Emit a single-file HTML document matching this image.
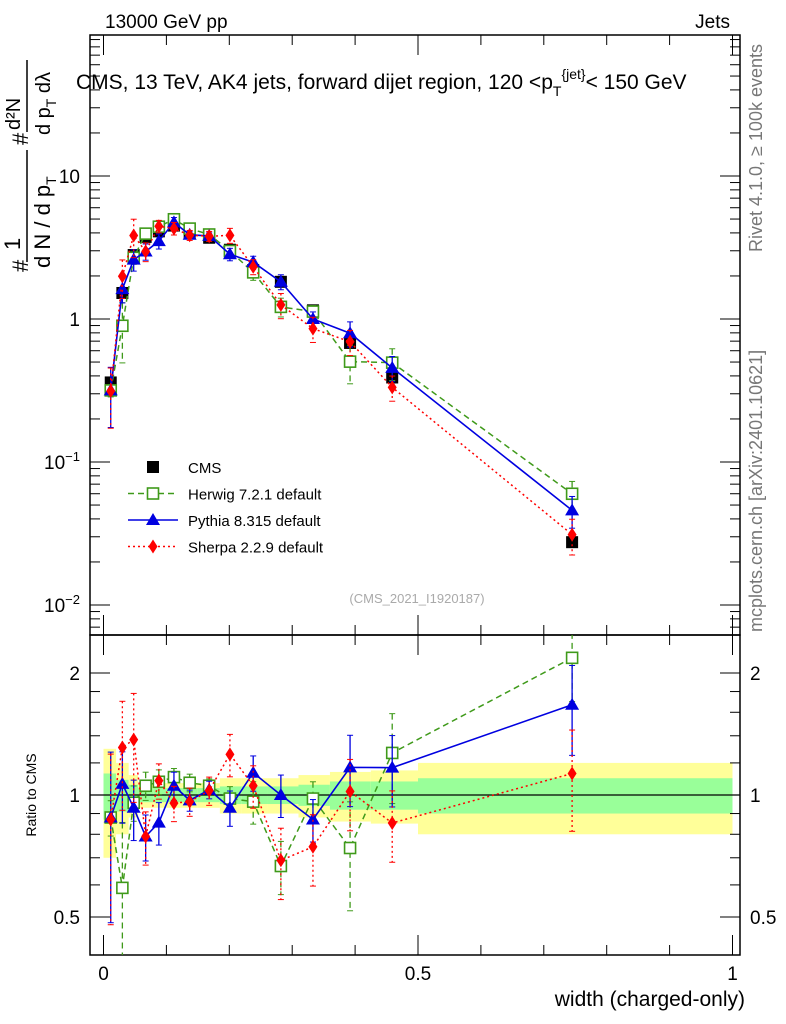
<!DOCTYPE html>
<html><head><meta charset="utf-8"><style>
body{margin:0;background:#fff}
svg{display:block;font-family:"Liberation Sans",sans-serif}
</style></head><body>
<svg id="c" width="786" height="1024" viewBox="0 0 786 1024" xmlns="http://www.w3.org/2000/svg">
<text x="105" y="28" font-size="19">13000 GeV pp</text>
<text x="730" y="28" font-size="19" text-anchor="end">Jets</text>
<text x="76" y="89" font-size="21">CMS, 13 TeV, AK4 jets, forward dijet region, 120 &lt;p<tspan font-size="14" dy="7">T</tspan><tspan font-size="14" dy="-17">{jet}</tspan><tspan dy="10">&lt; 150 GeV</tspan></text>
<text transform="translate(762,252) rotate(-90)" font-size="18" fill="#777">Rivet 4.1.0, ≥ 100k events</text>
<text transform="translate(762,632) rotate(-90)" font-size="18" fill="#777">mcplots.cern.ch [arXiv:2401.10621]</text>
<g>
<text transform="translate(28,272) rotate(-90)" font-size="22"># </text>
<text transform="translate(20,250) rotate(-90)" font-size="22">1</text>
<line x1="27" y1="150" x2="27" y2="262" stroke="#000" stroke-width="1.5"/>
<text transform="translate(50,268) rotate(-90)" font-size="22">d N / d p<tspan font-size="14" dy="6">T</tspan></text>
<text transform="translate(28,145) rotate(-90)" font-size="22">#</text>
<text transform="translate(20,130) rotate(-90)" font-size="20">d²N</text>
<line x1="27" y1="60" x2="27" y2="132" stroke="#000" stroke-width="1.5"/>
<text transform="translate(50,135) rotate(-90)" font-size="20">d p<tspan font-size="14" dy="6">T</tspan><tspan dy="-6"> dλ</tspan></text>
</g>
<text transform="translate(36,795) rotate(-90)" font-size="14" text-anchor="middle">Ratio to CMS</text>
<text x="745" y="1006" font-size="21" text-anchor="end">width (charged-only)</text>
<text x="417" y="603" font-size="13" fill="#aaa" text-anchor="middle">(CMS_2021_I1920187)</text>
<g id="g"></g>
</svg>
<script>
const xs=[0.0115,0.030,0.048,0.067,0.088,0.112,0.137,0.168,0.201,0.238,0.282,0.333,0.392,0.459,0.745];
const cms=[0.36,1.52,2.8,3.75,4.1,4.5,4.0,3.7,3.05,2.2,1.82,1.15,0.68,0.39,0.0275];
const herwigRatio=[0.88,0.59,0.957,1.054,1.078,1.107,1.072,1.054,0.98,0.963,0.668,0.98,0.74,1.27,2.18];
const pythiaRatio=[0.88,1.065,0.93,0.79,0.855,1.054,0.97,1.03,0.93,1.135,1.0,0.87,1.17,1.168,1.67];
const sherpaRatio=[0.87,1.31,1.37,0.79,1.085,0.955,0.963,1.025,1.26,1.054,0.69,0.745,1.02,0.853,1.13];
const herwigErr=[0.1,0.45,0.1,0.08,0.07,0.05,0.05,0.04,0.07,0.12,0.15,0.1,0.3,0.25,0.22];
const pythiaErr=[0.45,0.2,0.17,0.13,0.12,0.08,0.06,0.05,0.1,0.1,0.12,0.12,0.2,0.2,0.25];
const sherpaErr=[0.45,0.3,0.3,0.15,0.1,0.1,0.08,0.08,0.12,0.12,0.2,0.2,0.2,0.2,0.28];
const binEdges=[0,0.02,0.04,0.055,0.08,0.1,0.125,0.15,0.185,0.22,0.26,0.31,0.36,0.425,0.5,1.0];
const statBand=[0.13,0.09,0.06,0.04,0.04,0.04,0.04,0.04,0.05,0.05,0.05,0.06,0.08,0.08,0.1];
const totBand=[0.3,0.2,0.12,0.07,0.07,0.07,0.07,0.07,0.1,0.1,0.1,0.12,0.14,0.15,0.2];
const mainTicks=[10,1,0.1,0.01];
const ratioTicks=[2,1,0.5];
const xTicks=[0,0.5,1];

const NS="http://www.w3.org/2000/svg",G=document.getElementById('g');
function el(t,a,p){const e=document.createElementNS(NS,t);for(const k in a)e.setAttribute(k,a[k]);(p||G).appendChild(e);return e;}
const L=90,R=740,T=35,M=635,B=955;
const X=v=>103.5+v*629;
const Y=v=>319-143*Math.log10(v);
const RY=v=>795-122*Math.log2(v);
const clipR=el('clipPath',{id:'cr'});el('rect',{x:L,y:M,width:R-L,height:B-M},clipR);
const clipM=el('clipPath',{id:'cm'});el('rect',{x:L,y:T,width:R-L,height:M-T},clipM);

for(let i=0;i<statBand.length;i++){
 const x1=X(binEdges[i]),x2=X(binEdges[i+1]);
 let r=el('rect',{x:x1,y:RY(1+totBand[i]),width:x2-x1,height:RY(1-totBand[i])-RY(1+totBand[i]),fill:'#ffff99'});
 
 r=el('rect',{x:x1,y:RY(1+statBand[i]),width:x2-x1,height:RY(1-statBand[i])-RY(1+statBand[i]),fill:'#99ff99'});
 
}
el('line',{x1:L,x2:R,y1:RY(1),y2:RY(1),stroke:'#000','stroke-width':1.2});

let f=el('rect',{x:L,y:T,width:R-L,height:M-T,fill:'none',stroke:'#000','stroke-width':1.5});

f=el('rect',{x:L,y:M,width:R-L,height:B-M,fill:'none',stroke:'#000','stroke-width':1.5});


for(let d=-3;d<=2;d++)for(let m=1;m<10;m++){const v=m*Math.pow(10,d),y=Y(v);if(y<T||y>M)continue;const len=m==1?20:10;
 el('line',{x1:L,x2:L+len,y1:y,y2:y,stroke:'#000'});el('line',{x1:R,x2:R-len,y1:y,y2:y,stroke:'#000'});}
mainTicks.forEach(v=>{const t=el('text',{x:80,y:Y(v)+7,'font-size':19,'text-anchor':'end'});
 
 if(v>=1)t.textContent=String(v);else{t.textContent='10';const s=el('tspan',{'font-size':13,dy:-8},t);s.textContent='−'+Math.round(-Math.log10(v));}});
[0.5,0.6,0.7,0.8,0.9,1,1.2,1.4,1.6,1.8,2].forEach(v=>{const y=RY(v),len=(v==0.5||v==1||v==2)?20:10;
 el('line',{x1:L,x2:L+len,y1:y,y2:y,stroke:'#000'});el('line',{x1:R,x2:R-len,y1:y,y2:y,stroke:'#000'});});
ratioTicks.forEach(v=>{let t=el('text',{x:80,y:RY(v)+7,'font-size':19,'text-anchor':'end'});t.textContent=String(v);
 
 t=el('text',{x:750,y:RY(v)+7,'font-size':19});t.textContent=String(v);
 });
for(let i=0;i<=10;i++){const v=i/10,x=X(v),len=i%5==0?20:10;
 el('line',{x1:x,x2:x,y1:B,y2:B-len,stroke:'#000'});el('line',{x1:x,x2:x,y1:M,y2:M+len,stroke:'#000'});
 el('line',{x1:x,x2:x,y1:M,y2:M-len,stroke:'#000'});el('line',{x1:x,x2:x,y1:T,y2:T+len,stroke:'#000'});}
xTicks.forEach(v=>{const t=el('text',{x:X(v),y:980,'font-size':19,'text-anchor':'middle'});t.textContent=String(v);
 });

function marker(kind,x,y,col,p){
 if(kind=='sq')return el('rect',{x:x-5.5,y:y-5.5,width:11,height:11,fill:'#fff',stroke:col,'stroke-width':1.6},p);
 if(kind=='tri')return el('polygon',{points:`${x},${y-7} ${x-7},${y+5} ${x+7},${y+5}`,fill:col},p);
 if(kind=='dia')return el('polygon',{points:`${x},${y-7} ${x-4.5},${y} ${x},${y+7} ${x+4.5},${y}`,fill:col},p);
 return el('rect',{x:x-6,y:y-6,width:12,height:12,fill:'#000'},p);
}
const series=[
 {n:'herwig',r:herwigRatio,e:herwigErr,col:'#3f9a1a',dash:'6,4',w:1.5,m:'sq'},
 {n:'pythia',r:pythiaRatio,e:pythiaErr,col:'#0000e0',dash:'',w:1.6,m:'tri'},
 {n:'sherpa',r:sherpaRatio,e:sherpaErr,col:'#ff0000',dash:'2,3',w:1.5,m:'dia'}];
const gc=el('g',{'clip-path':'url(#cm)'});
xs.forEach((x,i)=>{const m=marker('cms',X(x),Y(cms[i]),'#000',gc);});
series.forEach(s=>{
 const gm=el('g',{'clip-path':'url(#cm)'});
 const gr=el('g',{'clip-path':'url(#cr)'});
 const pm=xs.map((x,i)=>X(x)+','+Y(cms[i]*s.r[i])).join(' ');
 const pr=xs.map((x,i)=>X(x)+','+RY(s.r[i])).join(' ');
 el('polyline',{points:pm,fill:'none',stroke:s.col,'stroke-width':s.w,'stroke-dasharray':s.dash},gm);
 el('polyline',{points:pr,fill:'none',stroke:s.col,'stroke-width':s.w,'stroke-dasharray':s.dash},gr);
 xs.forEach((x,i)=>{const px=X(x);
  [[gm,v=>Y(cms[i]*v)],[gr,RY]].forEach(([g,fy])=>{
   const y1=fy(s.r[i]*(1+s.e[i])),y2=fy(Math.max(0.05,s.r[i]*(1-s.e[i])));
   el('line',{x1:px,x2:px,y1:y1,y2:y2,stroke:s.col,'stroke-width':1.3,'stroke-dasharray':s.dash},g);
   el('line',{x1:px-3,x2:px+3,y1:y1,y2:y1,stroke:s.col},g);el('line',{x1:px-3,x2:px+3,y1:y2,y2:y2,stroke:s.col},g);
   const m=marker(s.m,px,fy(s.r[i]),s.col,g);});
 });
});
const lg=el('g',{});
[['CMS','cms','#000',''],['Herwig 7.2.1 default','sq','#3f9a1a','6,4'],['Pythia 8.315 default','tri','#0000e0',''],['Sherpa 2.2.9 default','dia','#ff0000','2,3']].forEach((e,i)=>{
 const y=467+i*26.5;const g=el('g',{},lg);
 if(e[1]!='cms')el('line',{x1:128,x2:178,y1:y,y2:y,stroke:e[2],'stroke-width':1.5,'stroke-dasharray':e[3]},g);
 marker(e[1],153,y,e[2],g);
 const t=el('text',{x:188,y:y+6,'font-size':15},g);t.textContent=e[0];});
</script>
</body></html>
